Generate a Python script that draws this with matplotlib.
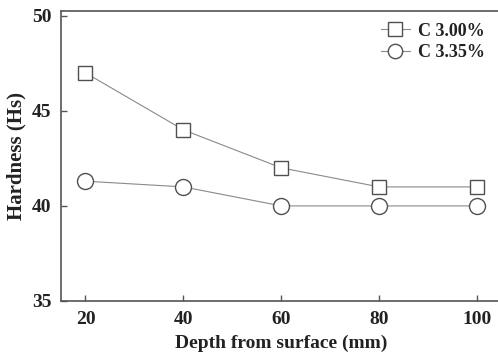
import matplotlib
matplotlib.use("Agg")
import matplotlib.pyplot as plt

plt.rcParams['font.family'] = ['Liberation Serif', 'DejaVu Serif']
plt.rcParams['font.weight'] = 'bold'

depth = [20, 40, 60, 80, 100]
hard_300 = [47.0, 44.0, 42.0, 41.0, 41.0]
hard_335 = [41.3, 41.0, 40.0, 40.0, 40.0]
labels = ['C 3.00%', 'C 3.35%']

fig = plt.figure(figsize=(4.98, 3.57), dpi=100)
ax = fig.add_axes([0.1225, 0.157, 0.885, 0.812])

line_kw = dict(color='#8a8a8a', lw=0.8, mfc='white', mec='#505050', mew=1.0)
ax.plot(depth, hard_300, marker='s', ms=10.5, label=labels[0], **line_kw)
ax.plot(depth, hard_335, marker='o', ms=11.5, label=labels[1], **line_kw)

ax.set_xlim(15, 105)
ax.set_ylim(35, 50.25)
ax.set_xticks(depth)
ax.set_yticks([35, 40, 45, 50])

for s in ['left', 'bottom', 'top']:
    ax.spines[s].set_color('#555555')
    ax.spines[s].set_linewidth(1.2)
ax.spines['right'].set_visible(False)

ax.tick_params(direction='in', length=4, width=1, color='#555555',
               labelsize=14, labelcolor='#222222', pad=7)
ax.set_xlabel('Depth from surface (mm)', fontsize=14, fontweight='bold',
              color='#222222', labelpad=5)
ax.set_ylabel('Hardness (Hs)', fontsize=15, fontweight='bold',
              color='#222222', labelpad=4)

leg = ax.legend(loc='upper left', bbox_to_anchor=(0.726, 0.96), frameon=False,
                fontsize=13, handlelength=1.6, handletextpad=0.45,
                labelspacing=0.25, borderaxespad=0, borderpad=0,
                markerscale=0.9)
for t in leg.get_texts():
    t.set_color('#222222')

fig.savefig('out.png', dpi=100)
